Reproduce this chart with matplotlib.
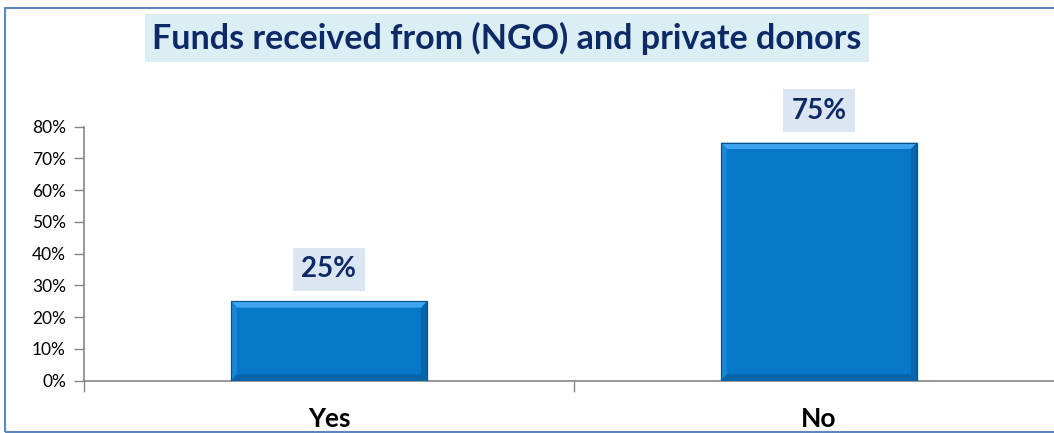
import matplotlib.pyplot as plt
import matplotlib.patches as mpatches
import numpy as np
import matplotlib

# data
categories=['Yes','No']
values=[0.25,0.75]
labels=['25%','75%']
title='Funds received from (NGO) and private donors'
yticks=np.arange(0,0.8+0.001,0.1)

matplotlib.rcParams['font.family']=['Lato','DejaVu Sans']
navy='#0D2A66'
barc='#0778C8'

fig=plt.figure(figsize=(10.54,4.33),dpi=100)
W,H=1054,433
ax=fig.add_axes([84/W,(H-380.7)/H,980/W,254/H])

x=np.arange(len(categories))
bw=0.4
bars=ax.bar(x,values,width=bw,color=barc,edgecolor='#0A4F86',linewidth=0.8,zorder=3)

# bevel look: lighter top / left, darker right / bottom
ex,ey=0.012,0.02
for b in bars:
	x0,y0=b.get_x(),b.get_y()
	x1,y1=x0+b.get_width(),y0+b.get_height()
	faces=[
		([(x0,y1),(x1,y1),(x1-ex,y1-ey),(x0+ex,y1-ey)],'#3DA5EE'),
		([(x0,y0),(x0,y1),(x0+ex,y1-ey),(x0+ex,y0+ey)],'#1A86D2'),
		([(x1,y0),(x1,y1),(x1-ex,y1-ey),(x1-ex,y0+ey)],'#0665AB'),
		([(x0,y0),(x1,y0),(x1-ex,y0+ey),(x0+ex,y0+ey)],'#0663A8'),
	]
	for pts,c in faces:
		ax.add_patch(mpatches.Polygon(pts,closed=True,facecolor=c,edgecolor='none',zorder=4))
	ax.add_patch(mpatches.Rectangle((x0,y0),x1-x0,y1-y0,fill=False,edgecolor='#0A4F86',linewidth=0.8,zorder=5))

for xi,v,l in zip(x,values,labels):
	ax.annotate(l,(xi,v),xytext=(0,23),textcoords='offset points',ha='center',va='center',
		fontsize=20,fontweight='bold',color=navy,zorder=6,
		bbox=dict(boxstyle='square,pad=0.3',facecolor='#DCE6F2',edgecolor='none'))

ax.set_xlim(-0.5,1.5)
ax.set_ylim(0,0.8)
ax.set_yticks(yticks)
ax.set_yticklabels(['{:.0f}%'.format(t*100) for t in yticks],fontsize=12.5)
ax.set_xticks([-0.5,0.5,1.5])
ax.set_xticklabels([])
ax.set_xticks(x,minor=True)
ax.set_xticklabels(categories,minor=True,fontsize=19,fontweight='bold')
ax.tick_params(axis='y',length=7,width=1,color='#868686',pad=6)
ax.tick_params(axis='x',which='major',length=8,width=1,color='#868686')
ax.tick_params(axis='x',which='minor',length=0,pad=19)
for s in ['top','right']:
	ax.spines[s].set_visible(False)
for s in ['left','bottom']:
	ax.spines[s].set_color('#868686')
	ax.spines[s].set_linewidth(1.2)
ax.spines['left'].set_bounds(0,0.8)

fig.text(507/W,1-38/H,title,ha='center',va='center',fontsize=24.5,fontweight='bold',color=navy,
	bbox=dict(boxstyle='square,pad=0.22',facecolor='#DBEEF4',edgecolor='none'))

# outer frame of the chart area
fig.patches.append(mpatches.Rectangle((5/W,1/H),1.2,(424)/H,transform=fig.transFigure,
	fill=False,edgecolor='#5B86C0',linewidth=1.5))

fig.savefig('out.png',dpi=100)
